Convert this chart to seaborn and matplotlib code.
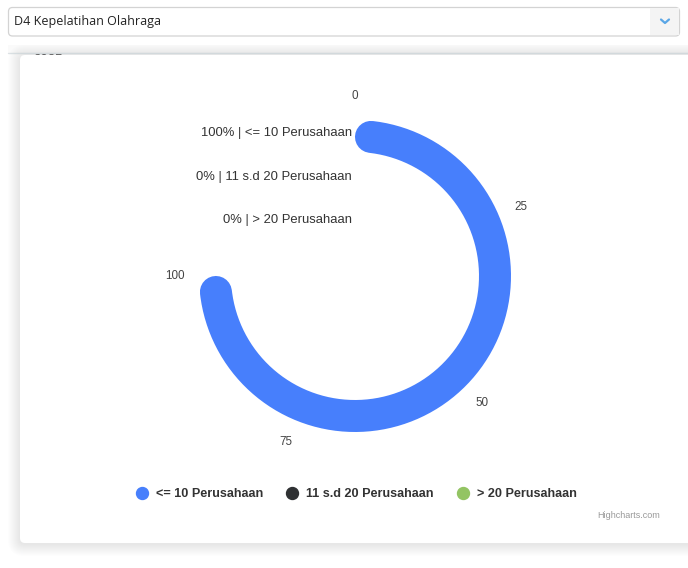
import matplotlib
matplotlib.use('Agg')
import matplotlib.pyplot as plt
import numpy as np
import seaborn as sns
from matplotlib.patches import FancyBboxPatch, Rectangle
from matplotlib.lines import Line2D

sns.set_theme(style='white')
plt.rcParams['font.family'] = ['Liberation Sans', 'DejaVu Sans']

# data
kategori = ['<= 10 Perusahaan', '11 s.d 20 Perusahaan', '> 20 Perusahaan']
persen = [100, 0, 0]
warna = ['#477ffc', '#2f3133', '#93c463']
skala_ticks = [0, 25, 50, 75, 100]
prodi = 'D4 Kepelatihan Olahraga'
tahun = '2025'

# ukuran (pixel)
W, H = 688, 568
cx, cy = 355, 276
r_max = 181
ring_r = [140, 96, 53]
ring_w = 32
sudut_penuh = 1.5 * np.pi  # 0..100 -> 270 derajat

fig = plt.figure(figsize=(W / 100, H / 100), dpi=100)
fig.patch.set_facecolor('white')

bg = fig.add_axes([0, 0, 1, 1], zorder=0)
bg.set_xlim(0, W)
bg.set_ylim(H, 0)
bg.axis('off')

# dropdown
bg.add_patch(FancyBboxPatch((8.5, 7.5), 671, 28.5, boxstyle='round,pad=0,rounding_size=4',
                            facecolor='white', edgecolor='#d3d3d3', lw=0.9))
bg.add_patch(Rectangle((650, 8.2), 29, 27.2, facecolor='#f4f4f4', edgecolor='none'))
bg.plot([661, 665, 669], [19.5, 23, 19.5], color='#5aa6e6', lw=1.6, solid_capstyle='round')
bg.text(14, 21.5, prodi, fontsize=9, family=['Open Sans', 'DejaVu Sans'], color='#222222',
        va='center', ha='left')

# tab di belakang kartu
bg.add_patch(Rectangle((8, 45), W - 8, 7.5, facecolor='#fafafa', edgecolor='none', zorder=0.5))
bg.plot([8, W], [52.5, 52.5], color='#dde2e5', lw=1, zorder=0.6)
bg.text(33, 60, tahun, fontsize=9.5, color='#555555', va='center', ha='left', zorder=0.7)

# kartu dengan bayangan
for i in range(12, 0, -1):
    bg.add_patch(FancyBboxPatch((20, 57), W, 487, boxstyle=f'round,pad={i},rounding_size={5 + i}',
                                facecolor='#9aa3a8', edgecolor='none', alpha=0.016, zorder=1))
bg.add_patch(FancyBboxPatch((20, 55), W, 488, boxstyle='round,pad=0,rounding_size=5',
                            facecolor='white', edgecolor='none', zorder=1.5))

# gauge
ax = fig.add_axes([(cx - r_max) / W, (H - cy - r_max) / H, 2 * r_max / W, 2 * r_max / H],
                  projection='polar', zorder=2)
ax.patch.set_alpha(0)
ax.set_theta_zero_location('N')
ax.set_theta_direction(-1)
ax.set_ylim(0, r_max)
ax.grid(False)
ax.spines['polar'].set_visible(False)
ax.set_yticks([])

theta_ticks = [v / 100 * sudut_penuh for v in skala_ticks]
ax.set_xticks(theta_ticks, [str(v) for v in skala_ticks])
ax.tick_params(axis='x', pad=-8, labelsize=8.4, labelcolor='#444444', length=0)

lw_pt = ring_w * 72 / 100
for nilai, r, c, nama in zip(persen, ring_r, warna, kategori):
    if nilai > 0:
        d = (ring_w / 2) / r
        th = np.linspace(d, nilai / 100 * sudut_penuh - d, 200)
        ax.plot(th, np.full_like(th, r), color=c, lw=lw_pt, solid_capstyle='round')
    ax.annotate(f'{nilai}% | {nama}', xy=(0, r + 3), xytext=(-3, 0), textcoords='offset pixels',
                ha='right', va='center', fontsize=9.4, color='#333333')

# legenda
handles = [Line2D([], [], marker='o', linestyle='none', markersize=8.6, markerfacecolor=c,
                  markeredgecolor=c) for c in warna]
bg.legend(handles, kategori, loc='center', bbox_to_anchor=(356 / W, 1 - 494 / H),
          bbox_transform=fig.transFigure, ncol=3, frameon=False, handlelength=1.0,
          handletextpad=0.6, columnspacing=1.8,
          prop={'size': 9.1, 'weight': 'bold', 'family': ['Liberation Sans', 'DejaVu Sans']},
          labelcolor='#333333')

bg.text(660, 515, 'Highcharts.com', fontsize=6.5, color='#999999', ha='right', va='center')

fig.savefig('out.png', dpi=100)
